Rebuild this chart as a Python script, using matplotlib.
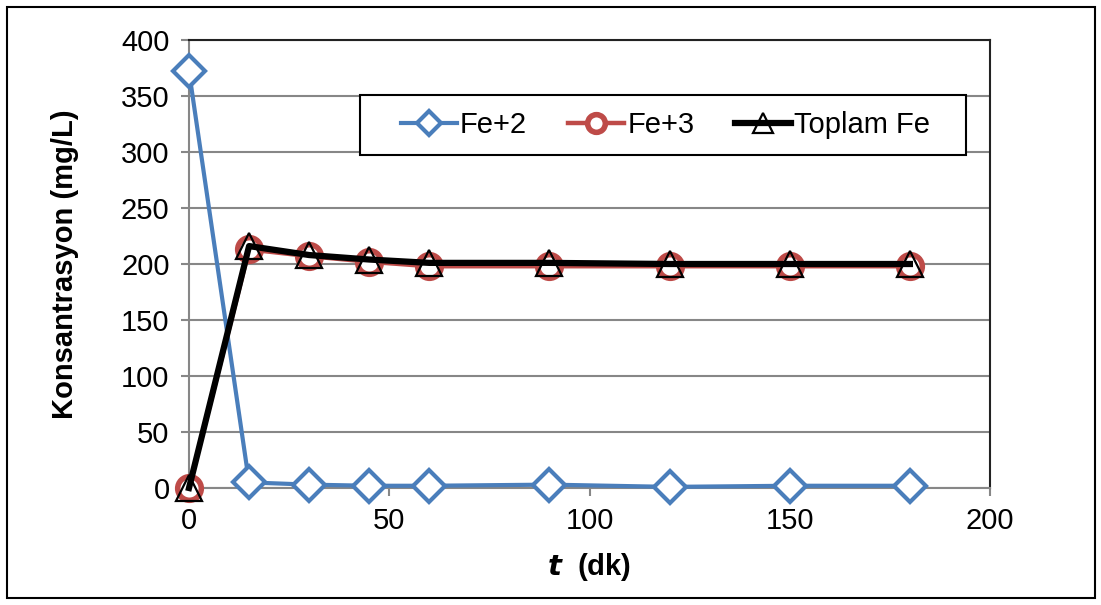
import matplotlib.pyplot as plt
from matplotlib.patches import Rectangle

plt.rcParams['font.family'] = ['Liberation Sans', 'DejaVu Sans']

# sure ve konsantrasyon degerleri
t_dk = [0, 15, 30, 45, 60, 90, 120, 150, 180]
fe2 = [372, 5, 3, 2, 2, 3, 1, 2, 2]
fe3 = [0, 213, 207, 202, 198, 198, 198, 198, 198]
toplam_fe = [0, 216, 208, 204, 201, 201, 200, 200, 200]

x_ticks = [0, 50, 100, 150, 200]
y_ticks = [0, 50, 100, 150, 200, 250, 300, 350, 400]

mavi = '#4A7EBB'
kirmizi = '#BE4B48'
gri = '#878787'

fig = plt.figure(figsize=(11.01, 6.05), dpi=100)
ax = fig.add_axes([189 / 1101, 1 - 488 / 605, 801 / 1101, 448 / 605])

ax.plot(t_dk, fe2, color=mavi, lw=3, marker='D', ms=16, mfc='white',
        mec=mavi, mew=3, label='Fe+2', clip_on=False, zorder=3)
ax.plot(t_dk, fe3, color=kirmizi, lw=3.2, marker='o', ms=17, mfc='white',
        mec=kirmizi, mew=4, label='Fe+3', clip_on=False, zorder=4)
ax.plot(t_dk, toplam_fe, color='black', lw=4.5, marker='^', ms=19, mfc='none',
        mec='black', mew=1.6, label='Toplam Fe', clip_on=False, zorder=5)

ax.set_xlim(0, 200)
ax.set_ylim(0, 400)
ax.set_xticks(x_ticks)
ax.set_yticks(y_ticks)
ax.tick_params(axis='both', labelsize=21, color=gri, width=1.5, length=6,
               direction='out')
ax.tick_params(axis='y', pad=8)
ax.tick_params(axis='x', pad=8)

ax.grid(axis='y', color=gri, lw=1.5)
ax.set_axisbelow(True)
for s in ['left', 'bottom']:
    ax.spines[s].set_color(gri)
    ax.spines[s].set_linewidth(1.5)
for s in ['top', 'right']:
    ax.spines[s].set_color('#222222')
    ax.spines[s].set_linewidth(1.5)

ax.set_ylabel('Konsantrasyon (mg/L)', fontsize=21, fontweight='bold')
ax.yaxis.set_label_coords(-0.137, 0.5)
ax.set_xlabel(r'$\bfit{t}$  (dk)', fontsize=21, fontweight='bold')
ax.xaxis.set_label_coords(0.5, -0.14)

# lejant: cerceve ayri ciziliyor, ic bosluklar daha genis
leg = ax.legend(loc='center', bbox_to_anchor=(0.595, 0.81), ncol=3,
                fontsize=21, frameon=False, handlelength=1.93,
                handletextpad=0.1, columnspacing=1.4, borderpad=0,
                markerscale=0.75)
leg.set_zorder(7)
ax.add_patch(Rectangle((0.2135, 0.7433), 0.7566, 0.1339, transform=ax.transAxes,
                       facecolor='white', edgecolor='black', lw=1.5,
                       zorder=6, clip_on=False))

# dis cerceve
fig.patches.append(Rectangle((7 / 1101, 7 / 605), 1088 / 1101, 591 / 605,
                             transform=fig.transFigure, fill=False,
                             edgecolor='black', lw=1.5))

fig.savefig('out.png', dpi=100)
